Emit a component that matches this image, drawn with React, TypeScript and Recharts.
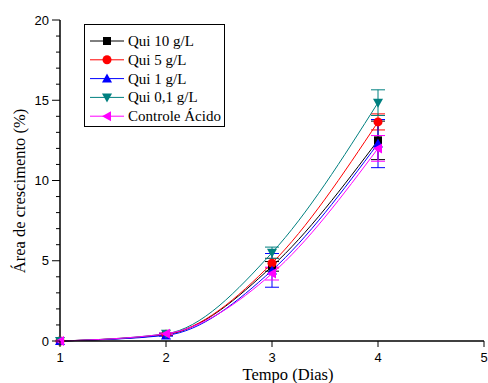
import { LineChart, Line, XAxis, YAxis, ErrorBar } from "recharts";

const days = [1, 2, 3, 4];
const qui10 = [0, 0.4, 4.65, 12.5];
const qui10Err = [0, 0.05, 0.3, 1.2];
const qui5 = [0, 0.42, 4.85, 13.65];
const qui5Err = [0, 0.05, 0.3, 0.5];
const qui1 = [0, 0.35, 4.4, 12.3];
const qui1Err = [0, 0.05, 1.05, 1.5];
const qui01 = [0, 0.45, 5.5, 14.85];
const qui01Err = [0, 0.05, 0.35, 0.8];
const controle = [0, 0.45, 4.2, 12.0];
const controleErr = [0, 0.05, 0.4, 0.8];

const xTicks = [1, 2, 3, 4, 5];
const yTicks = [0, 1, 2, 3, 4, 5, 6, 7, 8, 9, 10, 11, 12, 13, 14, 15, 16, 17, 18, 19, 20];

const SERIES = [
  { key: "q10", name: "Qui 10 g/L", color: "#000000", shape: "square" },
  { key: "q5", name: "Qui 5 g/L", color: "#ff0000", shape: "circle" },
  { key: "q1", name: "Qui 1 g/L", color: "#0000ff", shape: "up" },
  { key: "q01", name: "Qui 0,1 g/L", color: "#008080", shape: "down" },
  { key: "ctrl", name: "Controle Ácido", color: "#ff00ff", shape: "left" },
];

const data = days.map((day, i) => ({
  day,
  q10: qui10[i],
  q10e: qui10Err[i],
  q5: qui5[i],
  q5e: qui5Err[i],
  q1: qui1[i],
  q1e: qui1Err[i],
  q01: qui01[i],
  q01e: qui01Err[i],
  ctrl: controle[i],
  ctrle: controleErr[i],
}));

const SANS = "'Liberation Sans', Arial, sans-serif";
const SERIF = "'Liberation Serif', 'Times New Roman', serif";

function Marker({ shape, color, cx, cy }: { shape: string; color: string; cx: number; cy: number }) {
  if (shape === "square") return <rect x={cx - 4} y={cy - 4} width={8} height={8} fill={color} />;
  if (shape === "circle") return <circle cx={cx} cy={cy} r={4.5} fill={color} />;
  let pts = "";
  if (shape === "up") pts = `${cx},${cy - 5} ${cx + 5},${cy + 4} ${cx - 5},${cy + 4}`;
  if (shape === "down") pts = `${cx},${cy + 5} ${cx + 5},${cy - 4} ${cx - 5},${cy - 4}`;
  if (shape === "left") pts = `${cx - 5},${cy} ${cx + 4},${cy - 5} ${cx + 4},${cy + 5}`;
  return <polygon points={pts} fill={color} />;
}

function makeDot(shape: string, color: string) {
  return (props: any) => (
    <Marker key={`${shape}-${props.index}`} shape={shape} color={color} cx={props.cx} cy={props.cy} />
  );
}

function YTick({ x, y, payload }: any) {
  const major = payload.value % 5 === 0;
  return (
    <g>
      <line x1={x - (major ? 8 : 4)} x2={x} y1={y} y2={y} stroke="#000" strokeWidth={1} />
      {major && (
        <text x={x - 11} y={y + 4.5} textAnchor="end" fontSize={13} fontFamily={SANS} fill="#000">
          {payload.value}
        </text>
      )}
    </g>
  );
}

function XTick({ x, y, payload }: any) {
  return (
    <g>
      <line x1={x} x2={x} y1={y} y2={y + 6} stroke="#000" strokeWidth={1} />
      <text x={x} y={y + 21} textAnchor="middle" fontSize={13} fontFamily={SANS} fill="#000">
        {payload.value}
      </text>
    </g>
  );
}

function LegendBox() {
  return (
    <div
      style={{
        position: "absolute",
        left: 84,
        top: 24,
        width: 139,
        height: 101,
        border: "1px solid #000",
        background: "#fff",
      }}
    >
      <svg width={139} height={101}>
        {SERIES.map((s, i) => {
          const y = 16 + i * 18.8;
          return (
            <g key={s.key}>
              <line x1={5} x2={39} y1={y} y2={y} stroke={s.color} strokeWidth={1} />
              <Marker shape={s.shape} color={s.color} cx={22} cy={y} />
              <text x={43} y={y + 5} fontSize={15} fontFamily={SERIF} fill="#000">
                {s.name}
              </text>
            </g>
          );
        })}
      </svg>
    </div>
  );
}

export default function App() {
  return (
    <div style={{ position: "absolute", left: 0, top: 0, width: 488, height: 383, background: "#fff", overflow: "hidden" }}>
      <LineChart width={488} height={383} data={data} margin={{ top: 20, right: 4, bottom: 0, left: 0 }}>
        <XAxis
          dataKey="day"
          type="number"
          domain={[1, 5]}
          ticks={xTicks}
          height={42}
          tickSize={0}
          tickMargin={0}
          tickLine={false}
          tick={<XTick />}
          axisLine={{ stroke: "#000", strokeWidth: 1.5 }}
          label={() => (
            <text x={288} y={380} textAnchor="middle" fontSize={16.5} fontFamily={SERIF} fill="#000">
              Tempo (Dias)
            </text>
          )}
        />
        <YAxis
          type="number"
          domain={[0, 20]}
          ticks={yTicks}
          interval={0}
          width={60}
          tickSize={0}
          tickMargin={0}
          tickLine={false}
          tick={<YTick />}
          axisLine={{ stroke: "#000", strokeWidth: 1.5 }}
          label={() => (
            <text
              x={25}
              y={191}
              transform="rotate(-90 25 191)"
              textAnchor="middle"
              fontSize={16.5}
              fontFamily={SERIF}
              fill="#000"
            >
              Área de crescimento (%)
            </text>
          )}
        />
        {SERIES.map((s) => (
          <Line
            key={s.key}
            type="monotone"
            dataKey={s.key}
            name={s.name}
            stroke={s.color}
            strokeWidth={1}
            dot={makeDot(s.shape, s.color)}
            activeDot={false}
            isAnimationActive={false}
          >
            <ErrorBar dataKey={`${s.key}e`} width={7} stroke={s.color} strokeWidth={1} direction="y" />
          </Line>
        ))}
      </LineChart>
      <LegendBox />
    </div>
  );
}
